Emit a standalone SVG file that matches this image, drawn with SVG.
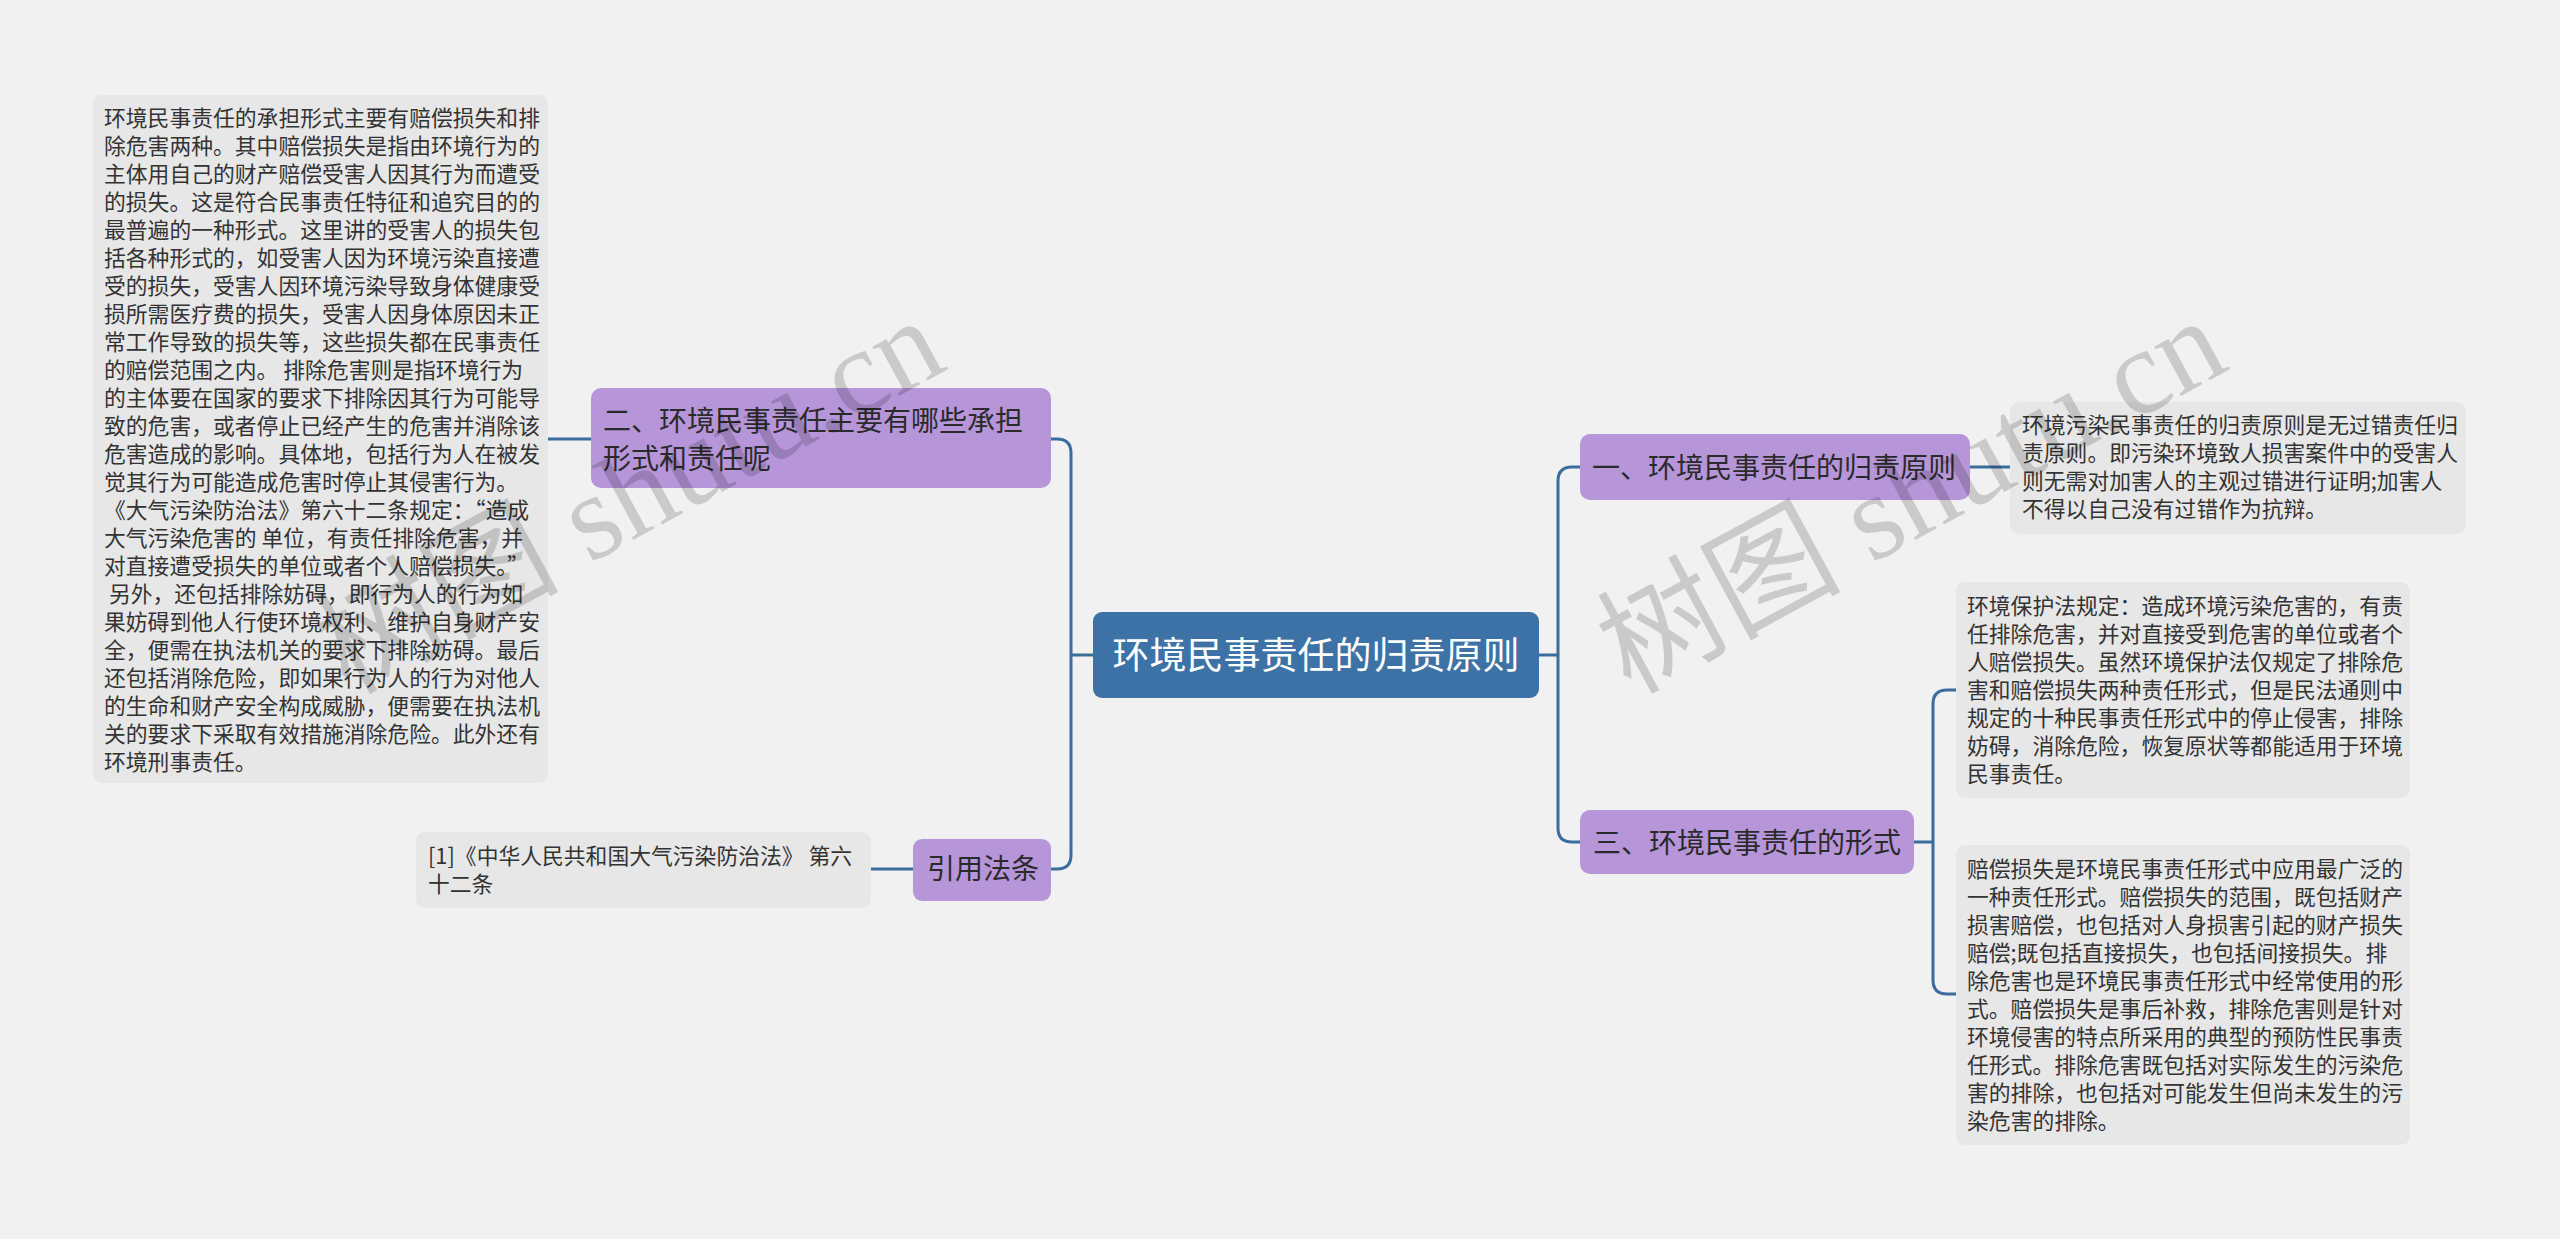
<svg xmlns="http://www.w3.org/2000/svg" width="2560" height="1239" viewBox="0 0 2560 1239">
<style>
.bg{fill:#f1f1f1}
.tb{fill:#e7e7e7}
.tp{fill:#b795d9}
.ct{fill:#3d72a6}
.t{font-family:"Noto Sans CJK SC","Liberation Sans",sans-serif;font-size:21.8px;fill:#333333}
.h{font-family:"Noto Sans CJK SC","Liberation Sans",sans-serif;font-size:28px;fill:#2a2a2a}
.c{font-family:"Noto Sans CJK SC","Liberation Sans",sans-serif;font-size:37px;fill:#ffffff}
.q{font-feature-settings:"fwid" 1}
.ln{fill:none;stroke:#3a6c9c;stroke-width:3}
.wm{font-family:"Liberation Serif","Noto Sans CJK SC",serif;font-size:122px;fill:#000000;fill-opacity:0.16}
</style>
<rect class="bg" x="0" y="0" width="2560" height="1239"/>
<g id="connectors">
<path class="ln" d="M1093 655 H1071"/>
<path class="ln" d="M1071 655 V453 Q1071 439 1057 439 H1051"/>
<path class="ln" d="M1071 655 V855 Q1071 869 1057 869 H1051"/>
<path class="ln" d="M591 439 H548"/>
<path class="ln" d="M913 869 H871"/>
<path class="ln" d="M1539 655 H1558"/>
<path class="ln" d="M1558 655 V481 Q1558 467 1572 467 H1580"/>
<path class="ln" d="M1558 655 V828 Q1558 842 1572 842 H1580"/>
<path class="ln" d="M1970 467 H2010"/>
<path class="ln" d="M1914 842 H1933"/>
<path class="ln" d="M1933 842 V704 Q1933 690 1947 690 H1956"/>
<path class="ln" d="M1933 842 V980 Q1933 994 1947 994 H1956"/>
</g>
<g id="center">
<rect class="ct" x="1093" y="612" width="446" height="86" rx="9"/>
<text class="c" x="1316" y="669" text-anchor="middle">环境民事责任的归责原则</text>
</g>
<g id="topic2">
<rect class="tp" x="591" y="388" width="460" height="100" rx="10"/>
<text class="h" x="603" y="431">二、环境民事责任主要有哪些承担</text>
<text class="h" x="603" y="469">形式和责任呢</text>
</g>
<g id="topic2-detail">
<rect class="tb" x="93" y="95" width="455" height="688" rx="9"/>
<text class="t" xml:space="preserve">
<tspan x="104" y="126">环境民事责任的承担形式主要有赔偿损失和排</tspan>
<tspan x="104" y="154">除危害两种。其中赔偿损失是指由环境行为的</tspan>
<tspan x="104" y="182">主体用自己的财产赔偿受害人因其行为而遭受</tspan>
<tspan x="104" y="210">的损失。这是符合民事责任特征和追究目的的</tspan>
<tspan x="104" y="238">最普遍的一种形式。这里讲的受害人的损失包</tspan>
<tspan x="104" y="266">括各种形式的，如受害人因为环境污染直接遭</tspan>
<tspan x="104" y="294">受的损失，受害人因环境污染导致身体健康受</tspan>
<tspan x="104" y="322">损所需医疗费的损失，受害人因身体原因未正</tspan>
<tspan x="104" y="350">常工作导致的损失等，这些损失都在民事责任</tspan>
<tspan x="104" y="378">的赔偿范围之内。 排除危害则是指环境行为</tspan>
<tspan x="104" y="406">的主体要在国家的要求下排除因其行为可能导</tspan>
<tspan x="104" y="434">致的危害，或者停止已经产生的危害并消除该</tspan>
<tspan x="104" y="462">危害造成的影响。具体地，包括行为人在被发</tspan>
<tspan x="104" y="490">觉其行为可能造成危害时停止其侵害行为。</tspan>
<tspan x="104" y="518">《大气污染防治法》第六十二条规定：<tspan class="q">“</tspan>造成</tspan>
<tspan x="104" y="546">大气污染危害的 单位，有责任排除危害，并</tspan>
<tspan x="104" y="574">对直接遭受损失的单位或者个人赔偿损失。<tspan class="q">”</tspan></tspan>
<tspan x="104" y="602"> 另外，还包括排除妨碍，即行为人的行为如</tspan>
<tspan x="104" y="630">果妨碍到他人行使环境权利、维护自身财产安</tspan>
<tspan x="104" y="658">全，便需在执法机关的要求下排除妨碍。最后</tspan>
<tspan x="104" y="686">还包括消除危险，即如果行为人的行为对他人</tspan>
<tspan x="104" y="714">的生命和财产安全构成威胁，便需要在执法机</tspan>
<tspan x="104" y="742">关的要求下采取有效措施消除危险。此外还有</tspan>
<tspan x="104" y="770">环境刑事责任。</tspan>
</text>
</g>
<g id="topic-law">
<rect class="tp" x="913" y="839" width="138" height="62" rx="9"/>
<text class="h" x="927" y="879">引用法条</text>
</g>
<g id="law-detail">
<rect class="tb" x="416" y="832" width="455" height="76" rx="9"/>
<text class="t" xml:space="preserve"><tspan x="428" y="864">[1]《中华人民共和国大气污染防治法》 第六</tspan><tspan x="428" y="892">十二条</tspan></text>
</g>
<g id="topic1">
<rect class="tp" x="1580" y="434" width="390" height="66" rx="10"/>
<text class="h" x="1592" y="478">一、环境民事责任的归责原则</text>
</g>
<g id="topic1-detail">
<rect class="tb" x="2010" y="402" width="456" height="132" rx="9"/>
<text class="t">
<tspan x="2022" y="433">环境污染民事责任的归责原则是无过错责任归</tspan>
<tspan x="2022" y="461">责原则。即污染环境致人损害案件中的受害人</tspan>
<tspan x="2022" y="489">则无需对加害人的主观过错进行证明;加害人</tspan>
<tspan x="2022" y="517">不得以自己没有过错作为抗辩。</tspan>
</text>
</g>
<g id="topic3">
<rect class="tp" x="1580" y="810" width="334" height="64" rx="10"/>
<text class="h" x="1593" y="853">三、环境民事责任的形式</text>
</g>
<g id="topic3-detail-a">
<rect class="tb" x="1956" y="582" width="454" height="216" rx="9"/>
<text class="t">
<tspan x="1967" y="614">环境保护法规定：造成环境污染危害的，有责</tspan>
<tspan x="1967" y="642">任排除危害，并对直接受到危害的单位或者个</tspan>
<tspan x="1967" y="670">人赔偿损失。虽然环境保护法仅规定了排除危</tspan>
<tspan x="1967" y="698">害和赔偿损失两种责任形式，但是民法通则中</tspan>
<tspan x="1967" y="726">规定的十种民事责任形式中的停止侵害，排除</tspan>
<tspan x="1967" y="754">妨碍，消除危险，恢复原状等都能适用于环境</tspan>
<tspan x="1967" y="782">民事责任。</tspan>
</text>
</g>
<g id="topic3-detail-b">
<rect class="tb" x="1956" y="845" width="454" height="300" rx="9"/>
<text class="t">
<tspan x="1967" y="877">赔偿损失是环境民事责任形式中应用最广泛的</tspan>
<tspan x="1967" y="905">一种责任形式。赔偿损失的范围，既包括财产</tspan>
<tspan x="1967" y="933">损害赔偿，也包括对人身损害引起的财产损失</tspan>
<tspan x="1967" y="961">赔偿;既包括直接损失，也包括间接损失。排</tspan>
<tspan x="1967" y="989">除危害也是环境民事责任形式中经常使用的形</tspan>
<tspan x="1967" y="1017">式。赔偿损失是事后补救，排除危害则是针对</tspan>
<tspan x="1967" y="1045">环境侵害的特点所采用的典型的预防性民事责</tspan>
<tspan x="1967" y="1073">任形式。排除危害既包括对实际发生的污染危</tspan>
<tspan x="1967" y="1101">害的排除，也包括对可能发生但尚未发生的污</tspan>
<tspan x="1967" y="1129">染危害的排除。</tspan>
</text>
</g>
<g id="watermarks">
<text class="wm" transform="translate(348 695) rotate(-28.5)" textLength="685" lengthAdjust="spacing">树图 shutu.cn</text>
<text class="wm" transform="translate(1630 695) rotate(-28.5)" textLength="685" lengthAdjust="spacing">树图 shutu.cn</text>
</g>
</svg>
